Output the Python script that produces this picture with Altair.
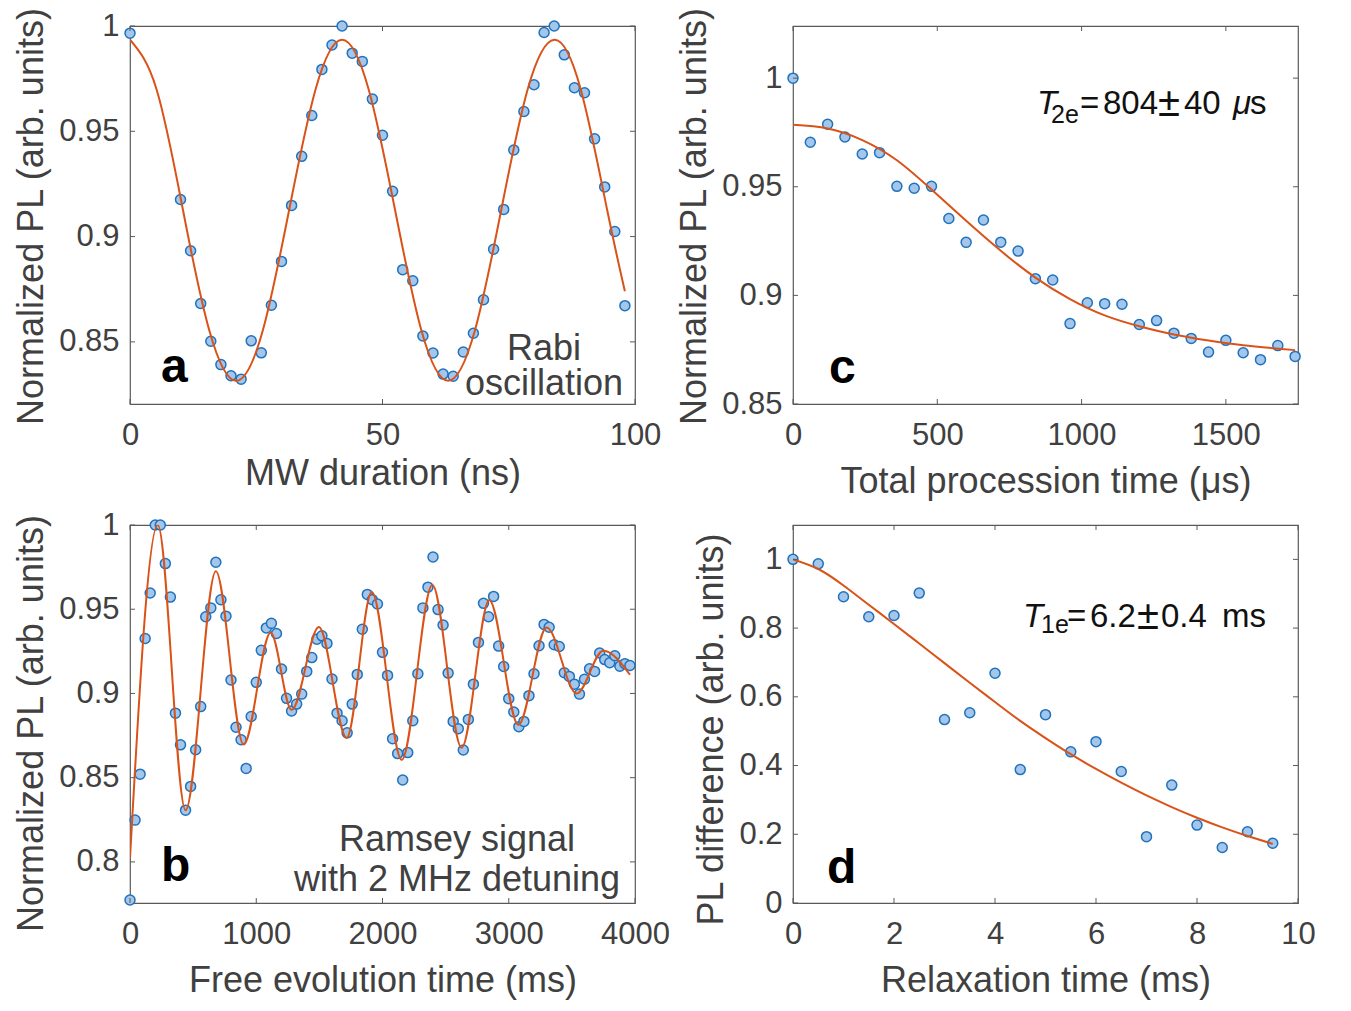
import altair as alt
import pandas as pd

# ---------------- data ----------------
# (a) Rabi oscillation
a_x = [0, 10, 12, 14, 16, 18, 20, 22, 24, 26, 28, 30, 32, 34, 36, 38, 40, 42, 44, 46, 48,
       50, 52, 54, 56, 58, 60, 62, 64, 66, 68, 70, 72, 74, 76, 78, 80, 82, 84, 86, 88,
       90, 92, 94, 96, 98]
a_y = [0.9966, 0.9176, 0.8933, 0.8682, 0.8503, 0.8392, 0.8339, 0.8323, 0.8505, 0.8448,
       0.8674, 0.8882, 0.9148, 0.9381, 0.9575, 0.9794, 0.9910, 1.0000, 0.9871, 0.9832,
       0.9653, 0.9481, 0.9215, 0.8843, 0.8790, 0.8528, 0.8447, 0.8347, 0.8337, 0.8452,
       0.8541, 0.8700, 0.8940, 0.9129, 0.9411, 0.9594, 0.9721, 0.9969, 1.0000, 0.9863,
       0.9707, 0.9683, 0.9464, 0.9236, 0.9024, 0.8672]
a_fit_x = [0, 5.25, 10.5, 15.75, 21, 26.25, 31.5, 36.75, 42, 47.25, 52.5, 57.75, 63,
           68.25, 73.5, 78.75, 84, 89.25, 94.5, 98]
a_fit_y = [0.9935, 0.970, 0.9125, 0.855, 0.8315, 0.855, 0.9125, 0.970, 0.9935, 0.970,
           0.9125, 0.855, 0.8315, 0.855, 0.9125, 0.970, 0.9935, 0.970, 0.9125, 0.874]

# (b) Ramsey signal
b_x = [0, 40, 80, 120, 160, 200, 240, 280, 320, 360, 400, 440, 480, 520, 560, 600, 640,
       680, 720, 760, 800, 840, 880, 920, 960, 1000, 1040, 1080, 1120, 1160, 1200, 1240,
       1280, 1320, 1360, 1400, 1440, 1480, 1520, 1560, 1600, 1640, 1680, 1720, 1760,
       1800, 1840, 1880, 1920, 1960, 2000, 2040, 2080, 2120, 2160, 2200, 2240, 2280,
       2320, 2360, 2400, 2440, 2480, 2520, 2560, 2600, 2640, 2680, 2720, 2760, 2800,
       2840, 2880, 2920, 2960, 3000, 3040, 3080, 3120, 3160, 3200, 3240, 3280, 3320,
       3360, 3400, 3440, 3480, 3520, 3560, 3600, 3640, 3680, 3720, 3760, 3800, 3840,
       3880, 3920, 3960]
b_y = [0.7774, 0.8248, 0.8521, 0.9326, 0.9596, 1.0000, 1.0000, 0.9771, 0.9572, 0.8883,
       0.8695, 0.8307, 0.8448, 0.8666, 0.8922, 0.9455, 0.9508, 0.9779, 0.9556, 0.9459,
       0.9080, 0.8799, 0.8725, 0.8555, 0.8863, 0.9066, 0.9256, 0.9389, 0.9416, 0.9356,
       0.9145, 0.8971, 0.8896, 0.8937, 0.8996, 0.9131, 0.9213, 0.9322, 0.9342, 0.9297,
       0.9086, 0.8883, 0.8838, 0.8766, 0.8937, 0.9113, 0.9381, 0.9588, 0.9556, 0.9531,
       0.9244, 0.9107, 0.8731, 0.8643, 0.8486, 0.8649, 0.8838, 0.9117, 0.9508, 0.9631,
       0.9810, 0.9498, 0.9406, 0.9121, 0.8834, 0.8791, 0.8664, 0.8846, 0.9055, 0.9303,
       0.9535, 0.9455, 0.9576, 0.9281, 0.9160, 0.8969, 0.8890, 0.8803, 0.8834, 0.8987,
       0.9117, 0.9283, 0.9410, 0.9393, 0.9289, 0.9279, 0.9123, 0.9101, 0.9055, 0.8996,
       0.9084, 0.9146, 0.9131, 0.9240, 0.9201, 0.9182, 0.9224, 0.9162, 0.9177, 0.9166]
b_fit_x = [0, 220, 440, 680, 900, 1114, 1280, 1496, 1716, 1915, 2152, 2395, 2627, 2846,
           3076, 3300, 3538, 3749, 3960]
b_fit_y = [0.802, 1.000, 0.8307, 0.9726, 0.8697, 0.9361, 0.8902, 0.9394, 0.8736, 0.9602,
           0.8606, 0.9644, 0.8678, 0.9553, 0.8814, 0.9391, 0.9000, 0.9254, 0.9111]

# (c) Hahn echo decay
c_x = [0, 60, 120, 180, 240, 300, 360, 420, 480, 540, 600, 660, 720, 780, 840, 900, 960,
       1020, 1080, 1140, 1200, 1260, 1320, 1380, 1440, 1500, 1560, 1620, 1680, 1740]
c_y = [1.0000, 0.9705, 0.9788, 0.9729, 0.9651, 0.9657, 0.9502, 0.9493, 0.9502, 0.9354,
       0.9244, 0.9347, 0.9245, 0.9204, 0.9077, 0.9071, 0.8870, 0.8966, 0.8962, 0.8959,
       0.8866, 0.8884, 0.8826, 0.8802, 0.8739, 0.8793, 0.8736, 0.8704, 0.8769, 0.8719]
c_fit_x = [0, 120, 240, 360, 480, 600, 720, 840, 960, 1080, 1200, 1320, 1440, 1560, 1740]
c_fit_y = [0.9785, 0.9768, 0.9715, 0.9622, 0.9487, 0.9343, 0.9205, 0.9082, 0.8983,
           0.8908, 0.8858, 0.8820, 0.8792, 0.8770, 0.8748]

# (d) T1 relaxation
d_x = [0, 0.5, 1, 1.5, 2, 2.5, 3, 3.5, 4, 4.5, 5, 5.5, 6, 6.5, 7, 7.5, 8, 8.5, 9, 9.5]
d_y = [1.0, 0.987, 0.8913, 0.833, 0.8368, 0.9019, 0.5337, 0.5538, 0.6686, 0.3882, 0.548,
       0.4399, 0.4695, 0.3825, 0.1931, 0.3432, 0.2267, 0.1615, 0.2075, 0.1739]
d_fit_x = [0, 0.5, 1, 1.5, 2, 2.5, 3, 3.5, 4, 4.5, 5, 5.5, 6, 6.5, 7, 7.5, 8, 8.5, 9, 9.5]
d_fit_y = [1.0, 0.972, 0.924, 0.868, 0.812, 0.755, 0.698, 0.641, 0.585, 0.530, 0.480,
           0.433, 0.390, 0.350, 0.313, 0.279, 0.248, 0.220, 0.195, 0.172]

# axis ticks
a_xticks, a_yticks = [0, 50, 100], [0.85, 0.9, 0.95, 1]
b_xticks, b_yticks = [0, 1000, 2000, 3000, 4000], [0.8, 0.85, 0.9, 0.95, 1]
c_xticks, c_yticks = [0, 500, 1000, 1500], [0.85, 0.9, 0.95, 1]
d_xticks, d_yticks = [0, 2, 4, 6, 8, 10], [0, 0.2, 0.4, 0.6, 0.8, 1]

# ---------------- style ----------------
FONT = "Liberation Sans"
TXT = "#404040"
FRAME = "#5a5a5a"
PT_FILL = "#a3c6ea"
PT_STROKE = "#1f72bd"
LINE = "#d95319"
W, H = 505, 378
TK = 5
ONE = pd.DataFrame({"k": [0]})


def txt(s, x, y, size=36, color=TXT, style="normal", weight="normal",
        align="left", lh=None):
    kw = dict(text=s, font=FONT, fontSize=size, color=color, fontStyle=style,
              fontWeight=weight, align=align, baseline="alphabetic")
    if lh is not None:
        kw["lineHeight"] = lh
    return alt.Chart(ONE).mark_text(**kw).encode(x=alt.value(x), y=alt.value(y))


def panel(px, py, fx, fy, xdom, ydom, xticks, yticks, xtitle, ytitle, interp, texts,
          xtp=14, yty=198):
    xs = alt.Scale(domain=xdom, nice=False, zero=False)
    ys = alt.Scale(domain=ydom, nice=False, zero=False)
    common = dict(format="~r", ticks=False, tickSize=0, domain=False, grid=False,
                  labelFont=FONT, labelFontSize=31, labelColor=TXT,
                  titleFont=FONT, titleFontSize=36, titleColor=TXT,
                  titleFontWeight="normal", labelFlush=False, labelOverlap=False)
    xa = alt.Axis(values=xticks, title=xtitle, labelPadding=16, titlePadding=xtp, **common)
    ya = alt.Axis(values=yticks, title=ytitle, labelPadding=11, titlePadding=8,
                  titleY=yty, **common)

    def X(f):
        return alt.X(f, scale=xs, axis=xa, title=xtitle)

    def Y(f):
        return alt.Y(f, scale=ys, axis=ya, title=ytitle)

    pts = alt.Chart(pd.DataFrame({"x": px, "y": py})).mark_circle(
        fill=PT_FILL, stroke=PT_STROKE, strokeWidth=1.5, opacity=1, size=100
    ).encode(x=X("x:Q"), y=Y("y:Q"))
    fit = alt.Chart(pd.DataFrame({"x": fx, "y": fy})).mark_line(
        color=LINE, strokeWidth=2, interpolate=interp, clip=True
    ).encode(x=X("x:Q"), y=Y("y:Q"))

    ydf = pd.DataFrame({"x": [xdom[0]] * len(yticks), "y": yticks})
    xdf = pd.DataFrame({"x": xticks, "y": [ydom[0]] * len(xticks)})
    rule = dict(color=FRAME, strokeWidth=1)
    lt = alt.Chart(ydf).mark_rule(**rule).encode(
        y=Y("y:Q"), x=alt.value(0), x2=alt.value(TK))
    rt = alt.Chart(ydf).mark_rule(**rule).encode(
        y=Y("y:Q"), x=alt.value(W - TK), x2=alt.value(W))
    bt = alt.Chart(xdf).mark_rule(**rule).encode(
        x=X("x:Q"), y=alt.value(H), y2=alt.value(H - TK))
    tt = alt.Chart(xdf).mark_rule(**rule).encode(
        x=X("x:Q"), y=alt.value(0), y2=alt.value(TK))

    return alt.layer(pts, fit, lt, rt, bt, tt, *texts).properties(width=W, height=H)


pa = panel(a_x, a_y, a_fit_x, a_fit_y, [0, 100], [0.8205, 1.0], a_xticks, a_yticks,
           "MW duration (ns)", "Normalized PL (arb. units)", "natural",
           [txt("a", 31, H - 22, size=48, color="#000", weight="bold"),
            txt(["Rabi", "oscillation"], 414, H - 44, align="center", lh=35)],
           xtp=6, yty=190)

pb = panel(b_x, b_y, b_fit_x, b_fit_y, [0, 4000], [0.7756, 1.0], b_xticks, b_yticks,
           "Free evolution time (ms)", "Normalized PL (arb. units)", "monotone",
           [txt("b", 31, H - 22, size=48, color="#000", weight="bold"),
            txt(["Ramsey signal", "with 2 MHz detuning"], 327, H - 52, align="center", lh=40)])

K = "#111111"
pc = panel(c_x, c_y, c_fit_x, c_fit_y, [0, 1750], [0.85, 1.024], c_xticks, c_yticks,
           "Total procession time (μs)", "Normalized PL (arb. units)", "natural",
           [txt("c", 36, H - 21, size=48, color="#000", weight="bold"),
            txt("T", 244, 88, size=33, color=K, style="italic"),
            txt("2e", 258, 97, size=25, color=K),
            txt("=", 287, 88, size=33, color=K),
            txt("804", 310, 88, size=33, color=K),
            txt("±", 365, 90, size=40, color=K),
            txt("40", 391, 88, size=33, color=K),
            txt("μ", 440, 88, size=33, color=K, style="italic"),
            txt("s", 457, 88, size=33, color=K)],
           yty=190)

pd_ = panel(d_x, d_y, d_fit_x, d_fit_y, [0, 10], [0, 1.1], d_xticks, d_yticks,
            "Relaxation time (ms)", "PL difference (arb. units)", "natural",
            [txt("d", 34, H - 20, size=48, color="#000", weight="bold"),
             txt("T", 230, 102, size=33, color=K, style="italic"),
             txt("1e", 248, 108, size=25, color=K),
             txt("=", 274, 102, size=33, color=K),
             txt("6.2", 297, 102, size=33, color=K),
             txt("±", 344, 104, size=40, color=K),
             txt("0.4", 368, 102, size=33, color=K),
             txt("ms", 429, 102, size=33, color=K)],
            yty=204)

chart = alt.ConcatChart(
    concat=[pa, pc, pb, pd_], columns=2,
    spacing={"row": 121, "column": 158}, bounds="flush"
).properties(
    padding={"left": 5, "top": -2, "right": 5, "bottom": 5}
).configure(font=FONT).configure_view(stroke=FRAME, strokeWidth=1.2)

chart.save("out.html", embed_options={"renderer": "svg", "actions": False})
